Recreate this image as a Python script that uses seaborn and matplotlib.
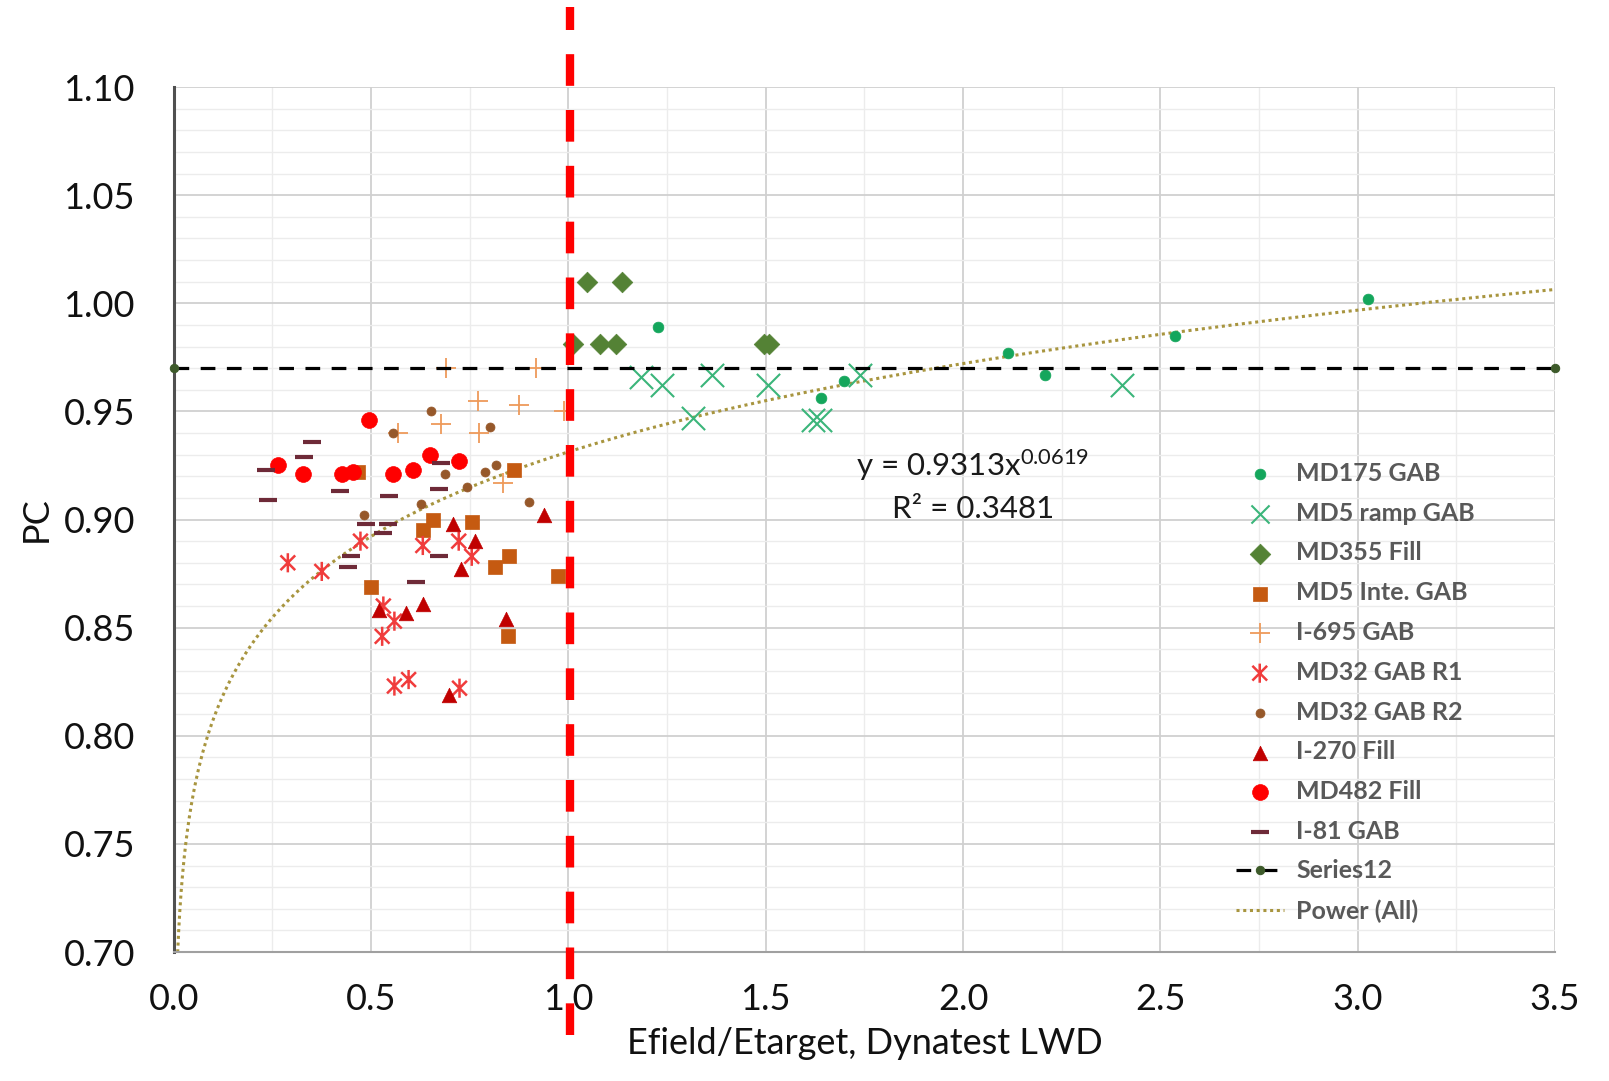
import matplotlib
matplotlib.use('Agg')
import matplotlib.pyplot as plt
import matplotlib.ticker as ticker
from matplotlib.path import Path
import numpy as np
import seaborn as sns

# Series
md175_x = [1.227, 1.640, 1.697, 2.114, 2.207, 2.538, 3.025]
md175_y = [0.989, 0.956, 0.964, 0.977, 0.967, 0.985, 1.002]

md5ramp_x = [1.185, 1.236, 1.316, 1.363, 1.506, 1.620, 1.637, 1.738, 2.402]
md5ramp_y = [0.966, 0.962, 0.947, 0.967, 0.962, 0.946, 0.946, 0.967, 0.962]

md355_x = [1.046, 1.135, 1.012, 1.081, 1.120, 1.495, 1.508]
md355_y = [1.010, 1.010, 0.981, 0.981, 0.981, 0.981, 0.981]

md5inte_x = [0.466, 0.501, 0.631, 0.656, 0.755, 0.814, 0.850, 0.861, 0.846, 0.973]
md5inte_y = [0.922, 0.869, 0.895, 0.900, 0.899, 0.878, 0.883, 0.923, 0.846, 0.874]

i695_x = [0.691, 0.918, 0.770, 0.876, 0.677, 0.773, 0.567, 0.990, 0.833]
i695_y = [0.970, 0.970, 0.955, 0.953, 0.944, 0.940, 0.940, 0.950, 0.917]

md32r1_x = [0.289, 0.375, 0.473, 0.631, 0.722, 0.755, 0.531, 0.559, 0.528, 0.559, 0.595, 0.724]
md32r1_y = [0.880, 0.876, 0.890, 0.888, 0.890, 0.883, 0.860, 0.853, 0.846, 0.823, 0.826, 0.822]

md32r2_x = [0.652, 0.555, 0.800, 0.687, 0.789, 0.817, 0.742, 0.627, 0.483, 0.901]
md32r2_y = [0.950, 0.940, 0.943, 0.921, 0.922, 0.925, 0.915, 0.907, 0.902, 0.908]

i270_x = [0.707, 0.764, 0.728, 0.939, 0.521, 0.588, 0.631, 0.842, 0.698]
i270_y = [0.898, 0.890, 0.877, 0.902, 0.858, 0.857, 0.861, 0.854, 0.819]

md482_x = [0.263, 0.328, 0.426, 0.453, 0.494, 0.555, 0.605, 0.648, 0.722]
md482_y = [0.925, 0.921, 0.921, 0.922, 0.946, 0.921, 0.923, 0.930, 0.927]

i81_x = [0.234, 0.331, 0.350, 0.677, 0.238, 0.422, 0.546, 0.672, 0.487, 0.544, 0.531, 0.449, 0.441, 0.672, 0.615]
i81_y = [0.923, 0.929, 0.936, 0.926, 0.909, 0.913, 0.911, 0.914, 0.898, 0.898, 0.894, 0.883, 0.878, 0.883, 0.871]

series12_x = [0.0, 3.5]
series12_y = [0.97, 0.97]

# Power trendline y = a * x^b
power_a = 0.9313
power_b = 0.0619
power_r2 = 0.3481

target_ratio = 1.005

x_ticks = [0.0, 0.5, 1.0, 1.5, 2.0, 2.5, 3.0, 3.5]
y_ticks = [0.70, 0.75, 0.80, 0.85, 0.90, 0.95, 1.00, 1.05, 1.10]

sns.set_theme(style='white')
plt.rcParams['font.family'] = ['Lato', 'DejaVu Sans']
plt.rcParams['mathtext.fontset'] = 'custom'
plt.rcParams['mathtext.rm'] = 'Lato'
plt.rcParams['mathtext.it'] = 'Lato'

# Excel style "star": an X with a vertical bar through it
star = Path([(-1, -1), (1, 1), (-1, 1), (1, -1), (0, -1.3), (0, 1.3)],
            [Path.MOVETO, Path.LINETO, Path.MOVETO, Path.LINETO, Path.MOVETO, Path.LINETO])

fig = plt.figure(figsize=(16.09, 10.81), dpi=100)
ax = fig.add_axes([0.108, 0.1193, 0.8585, 0.8002])

# Grid
ax.set_xlim(0, 3.5)
ax.set_ylim(0.70, 1.10)
ax.xaxis.set_major_locator(ticker.FixedLocator(x_ticks))
ax.yaxis.set_major_locator(ticker.FixedLocator(y_ticks))
ax.xaxis.set_minor_locator(ticker.MultipleLocator(0.25))
ax.yaxis.set_minor_locator(ticker.MultipleLocator(0.01))
ax.grid(which='major', color='#d0d0d0', linewidth=1.3)
ax.grid(which='minor', color='#ececec', linewidth=1.0)
ax.set_axisbelow(True)

# Scatter series: label, x, y, marker, color, size, linewidth
series = [
    ('MD175 GAB', md175_x, md175_y, 'o', '#14a65c', 60, 0.5),
    ('MD5 ramp GAB', md5ramp_x, md5ramp_y, 'x', '#3bb57a', 280, 1.5),
    ('MD355 Fill', md355_x, md355_y, 'D', '#548235', 110, 0.5),
    ('MD5 Inte. GAB', md5inte_x, md5inte_y, 's', '#c55a11', 110, 0.5),
    ('I-695 GAB', i695_x, i695_y, '+', '#ee9a5a', 190, 1.3),
    ('MD32 GAB R1', md32r1_x, md32r1_y, star, '#f03c3c', 190, 1.8),
    ('MD32 GAB R2', md32r2_x, md32r2_y, 'o', '#96582a', 42, 0.5),
    ('I-270 Fill', i270_x, i270_y, '^', '#c00000', 110, 0.5),
    ('MD482 Fill', md482_x, md482_y, 'o', '#ff0000', 130, 0.5),
    ('I-81 GAB', i81_x, i81_y, '_', '#6e2a38', 170, 3.0),
]
for label, xs, ys, marker, color, size, lw in series:
    if isinstance(marker, Path):
        sns.scatterplot(x=xs, y=ys, marker=marker, s=size, facecolor='none',
                        edgecolor=color, linewidth=lw, ax=ax, label=label, zorder=3)
    elif marker in ('x', '+', '_'):
        sns.scatterplot(x=xs, y=ys, marker=marker, s=size, color=color,
                        linewidth=lw, ax=ax, label=label, zorder=3)
    else:
        sns.scatterplot(x=xs, y=ys, marker=marker, s=size, color=color,
                        edgecolor=color, linewidth=lw, ax=ax, label=label, zorder=3)

# Series12 reference line
sns.lineplot(x=series12_x, y=series12_y, color='black', linewidth=2.3,
             linestyle=(0, (4.6, 3.6)), marker='o', markersize=6,
             markerfacecolor='#3d5a2a', markeredgecolor='#3d5a2a',
             ax=ax, label='Series12', clip_on=False, zorder=4)

# Power trendline
trend_x = np.geomspace(0.0099, 3.5, 400)
trend_y = power_a * trend_x ** power_b
sns.lineplot(x=trend_x, y=trend_y, color='#a8953f', linewidth=2.2,
             linestyle=(0, (1, 1.2)), ax=ax, label='Power (All)', zorder=2)

ax.text(2.025, 0.925, r'y = 0.9313x$^{0.0619}$', fontsize=22.5, color='#1a1a1a',
        ha='center', va='center')
ax.text(2.025, 0.905, 'R\u00b2 = 0.3481', fontsize=22.5, color='#1a1a1a',
        ha='center', va='center')

# Red target line extends beyond the plot area
ax.axvline(target_ratio, ymin=-0.096, ymax=1.093, color='#ff0000', linewidth=6.0,
           linestyle=(0, (3.8, 2.9)), clip_on=False, zorder=5)

# Axes styling
ax.xaxis.set_major_formatter(ticker.FormatStrFormatter('%.1f'))
ax.yaxis.set_major_formatter(ticker.FormatStrFormatter('%.2f'))
ax.tick_params(axis='both', which='both', length=0, labelsize=26, colors='#111111')
ax.tick_params(axis='y', pad=28)
ax.tick_params(axis='x', pad=22)
for side in ['top', 'right']:
    ax.spines[side].set_visible(False)
ax.spines['left'].set_color('#505050')
ax.spines['left'].set_linewidth(2.2)
ax.spines['bottom'].set_color('#a0a0a0')
ax.spines['bottom'].set_linewidth(1.5)

ax.set_xlabel('Efield/Etarget, Dynatest LWD', fontsize=26, color='#111111', labelpad=8)
ax.set_ylabel('PC', fontsize=26, color='#111111', labelpad=8)

legend = ax.legend(loc='upper left', bbox_to_anchor=(1236 / 1609, 1 - 462 / 1081),
                   bbox_transform=fig.transFigure, frameon=False, fontsize=18,
                   handlelength=1.9, handletextpad=0.5, labelspacing=0.67,
                   borderpad=0, borderaxespad=0, scatterpoints=1)
for text in legend.get_texts():
    text.set_color('#595959')
    text.set_fontweight('bold')
# Excel draws the legend X a little smaller than on the plot
legend.legend_handles[1].set_sizes([170])

fig.savefig('out.png', dpi=100)
plt.close(fig)
